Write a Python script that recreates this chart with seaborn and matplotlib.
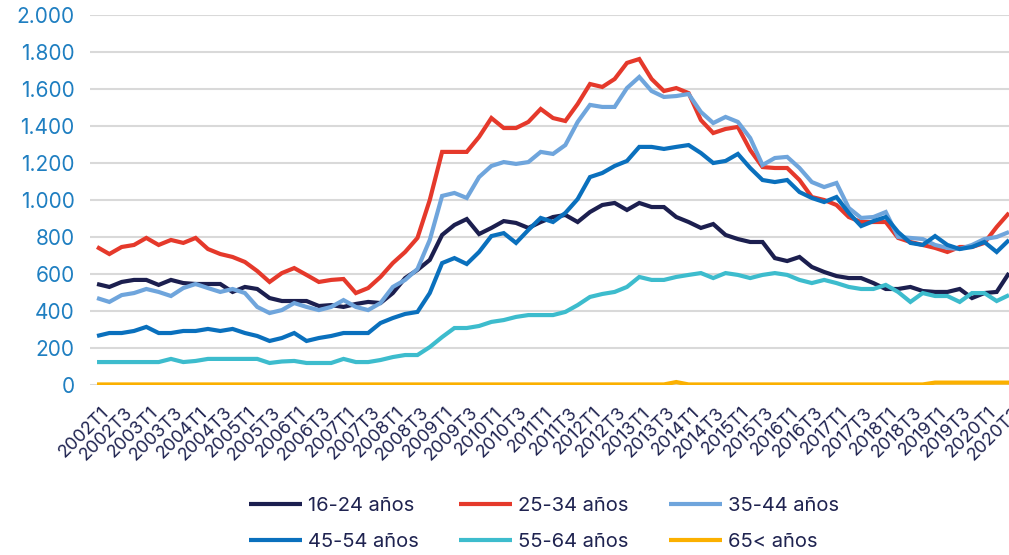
import matplotlib
matplotlib.use("Agg")
import matplotlib.pyplot as plt
import matplotlib.transforms as mtransforms
import seaborn as sns
import pandas as pd
import numpy as np

# ---------------- data ----------------
years = list(range(2002, 2021))
quarters = [f"{y}T{q}" for y in years for q in range(1, 5)][:75]   # 2002T1 .. 2020T3

g16_24 = [546, 530, 557, 568, 568, 541, 568, 551, 546, 546, 546, 503, 530, 519, 470, 454, 454, 454, 427, 432,
          422, 438, 449, 443, 497, 578, 622, 676, 811, 865, 897, 816, 849, 886, 876, 849, 881, 908, 919, 881,
          935, 973, 984, 946, 984, 962, 962, 908, 881, 849, 870, 811, 789, 773, 773, 686, 670, 692, 638, 611,
          589, 578, 578, 551, 519, 519, 530, 508, 503, 503, 519, 470, 497, 503, 605]
g25_34 = [746, 708, 746, 757, 795, 757, 784, 768, 795, 735, 708, 692, 665, 616, 557, 605, 632, 595, 557, 568,
          573, 497, 524, 584, 659, 719, 795, 1000, 1260, 1260, 1260, 1341, 1443, 1389, 1389, 1422, 1492, 1443, 1427, 1519,
          1627, 1611, 1654, 1741, 1762, 1654, 1589, 1605, 1578, 1432, 1362, 1384, 1395, 1270, 1178, 1173, 1173, 1108, 1016, 1000,
          973, 908, 881, 881, 881, 795, 773, 757, 741, 719, 746, 746, 768, 854, 930]
g35_44 = [470, 449, 486, 497, 519, 503, 481, 524, 546, 524, 503, 519, 497, 422, 389, 405, 443, 422, 405, 422,
          459, 422, 405, 443, 530, 568, 627, 784, 1022, 1038, 1011, 1124, 1184, 1205, 1195, 1205, 1260, 1249, 1297, 1422,
          1514, 1503, 1503, 1605, 1665, 1589, 1557, 1562, 1573, 1476, 1416, 1449, 1422, 1335, 1189, 1227, 1233, 1173, 1097, 1070,
          1092, 957, 903, 908, 935, 800, 795, 789, 757, 741, 735, 757, 789, 800, 827]
g45_54 = [265, 281, 281, 292, 314, 281, 281, 292, 292, 303, 292, 303, 281, 265, 238, 254, 281, 238, 254, 265,
          281, 281, 281, 335, 362, 384, 395, 497, 659, 686, 654, 719, 805, 821, 768, 838, 903, 881, 930, 1005,
          1124, 1146, 1184, 1211, 1287, 1287, 1276, 1287, 1297, 1254, 1200, 1211, 1249, 1173, 1108, 1097, 1108, 1043, 1011, 989,
          1016, 930, 859, 886, 908, 827, 768, 757, 805, 757, 735, 746, 773, 719, 784]
g55_64 = [124, 124, 124, 124, 124, 124, 141, 124, 130, 141, 141, 141, 141, 141, 119, 127, 130, 119, 119, 119,
          141, 124, 124, 135, 151, 162, 162, 205, 259, 308, 308, 319, 341, 351, 368, 378, 378, 378, 395, 432,
          476, 492, 503, 530, 584, 568, 568, 584, 595, 605, 578, 605, 595, 578, 595, 605, 595, 568, 551, 568,
          551, 530, 519, 519, 541, 503, 449, 497, 481, 481, 449, 497, 497, 454, 486]
g65 = [3] * 47 + [16] + [3] * 20 + [13] * 7

series_names = ["16-24 años", "25-34 años", "35-44 años", "45-54 años", "55-64 años", "65< años"]
series_values = [g16_24, g25_34, g35_44, g45_54, g55_64, g65]
colors = ["#1c1f4f", "#e5392b", "#6fa5dc", "#0a70bd", "#3dbccd", "#fbb000"]

tick_labels = quarters[::2]
y_ticks = list(range(0, 2001, 200))

# ---------------- plot ----------------
sns.set_theme(style="white")
plt.rcParams["font.family"] = ["Inter", "DejaVu Sans"]

rows = []
for name, vals in zip(series_names, series_values):
    for i, v in enumerate(vals):
        rows.append({"idx": i, "valor": v, "grupo": name})
df = pd.DataFrame(rows)

W, H = 1009, 555
fig = plt.figure(figsize=(W / 100, H / 100), dpi=100)
ax = fig.add_axes([90 / W, 1 - 385 / H, 919 / W, 370 / H])

sns.lineplot(data=df, x="idx", y="valor", hue="grupo", hue_order=series_names,
             palette=dict(zip(series_names, colors)), linewidth=3.0, legend=False,
             ax=ax, solid_capstyle="butt", solid_joinstyle="miter")

ax.set_xlim(-0.57, 74.0)
ax.set_ylim(0, 2000)
ax.set_xlabel("")
ax.set_ylabel("")
for s in ax.spines.values():
    s.set_visible(False)

ax.set_yticks(y_ticks)
ax.set_yticklabels([f"{v:,}".replace(",", ".") for v in y_ticks])
ax.yaxis.grid(True, color="#d9d9d9", linewidth=1.5)
ax.xaxis.grid(False)
ax.set_axisbelow(True)
ax.tick_params(axis="y", length=0, pad=11, labelsize=15, labelcolor="#1f7fc1")

ax.set_xticks(list(range(0, 75, 2)))
ax.set_xticklabels(tick_labels)
ax.tick_params(axis="x", length=0, pad=18, labelsize=13, labelcolor="#1f2350")
offset = mtransforms.ScaledTranslation(9 / 100, 0, fig.dpi_scale_trans)
for lab in ax.get_xticklabels():
    lab.set_rotation(45)
    lab.set_ha("right")
    lab.set_va("center")
    lab.set_rotation_mode("anchor")
    lab.set_transform(lab.get_transform() + offset)

handles = {name: line for name, line in zip(series_names, ax.get_lines())}
order = ["16-24 años", "45-54 años", "25-34 años", "55-64 años", "35-44 años", "65< años"]
fig.legend([handles[n] for n in order], order, loc="center", ncol=3,
           bbox_to_anchor=(544 / W, 1 - 524 / H), frameon=False, fontsize=14.5,
           handlelength=2.65, handletextpad=0.3, columnspacing=2.0, labelspacing=0.85,
           labelcolor="#1f2350")

fig.savefig("out.png", dpi=100)
